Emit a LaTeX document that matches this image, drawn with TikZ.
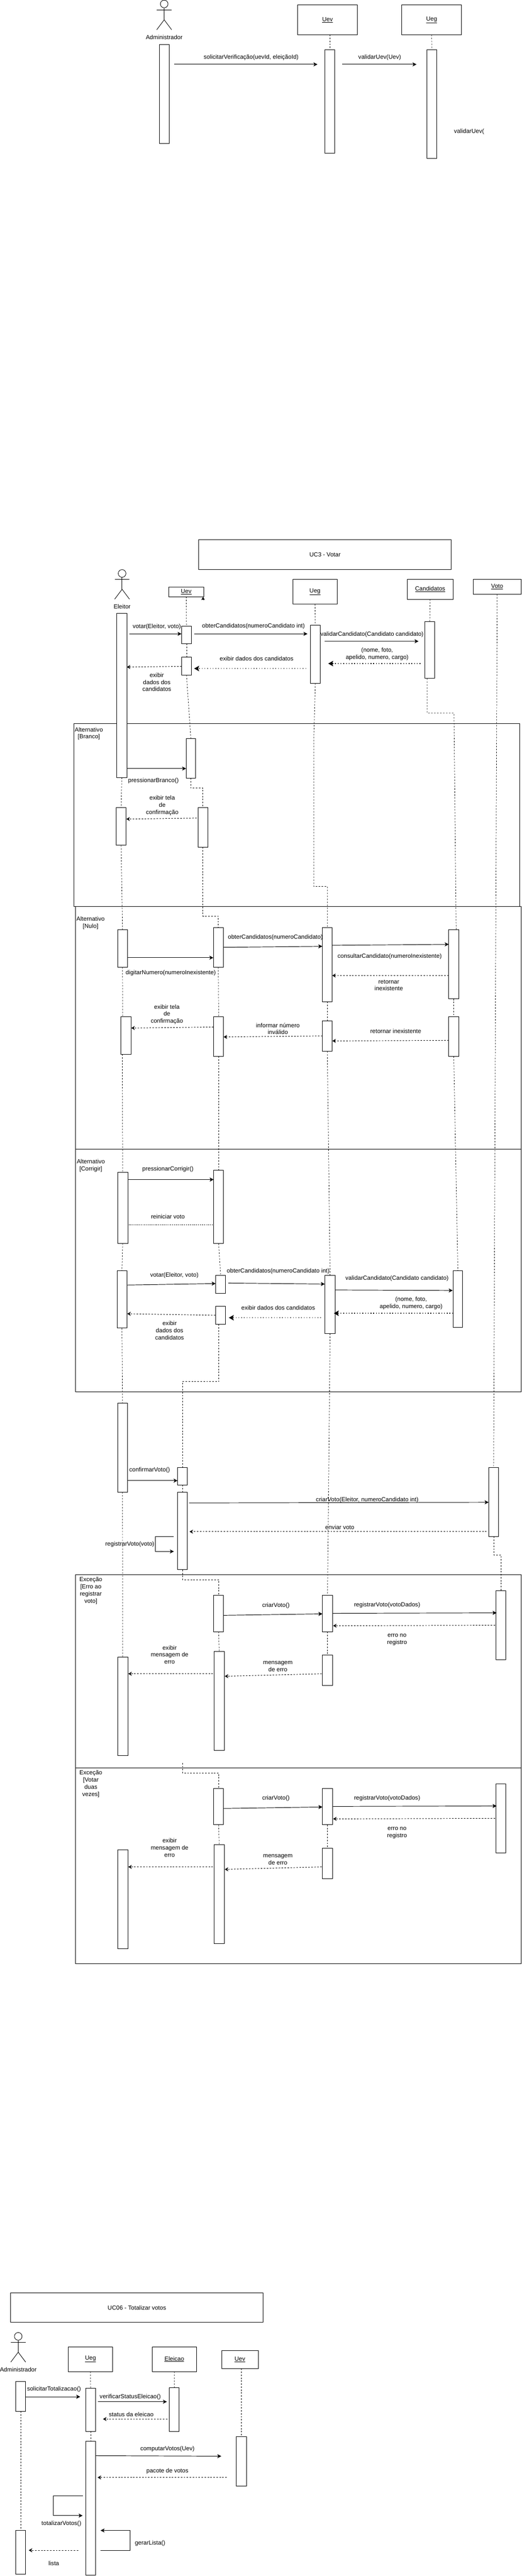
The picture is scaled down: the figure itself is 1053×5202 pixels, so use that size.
\documentclass[tikz,border=0pt]{standalone}
\usepackage{fontspec}
\setmainfont{Liberation Sans}
\usetikzlibrary{arrows.meta,backgrounds}
\newcounter{lblno}
\tikzset{
  actbar/.style={draw=black,fill=white,line width=1pt,inner sep=0pt,outer sep=0pt},
  classbox/.style={draw=black,fill=white,line width=1pt,inner sep=0pt,outer sep=0pt,font=\fontsize{12}{14.4}\selectfont},
  framebox/.style={draw=black,line width=1pt,inner sep=0pt,outer sep=0pt},
  lab/.style={inner sep=0pt,outer sep=0pt,align=center,font=\fontsize{12}{14.4}\selectfont},
  life/.style={line width=.75pt,dash pattern=on 3pt off 3pt},
  call/.style={line width=1pt,-{Stealth[length=8pt,width=8pt,inset=2pt]}},
  ret/.style={line width=1pt,dash pattern=on 3pt off 3pt,-{Stealth[length=7pt,width=8pt,inset=2pt]}},
  retdot/.style={line width=1.5pt,dash pattern=on 1.5pt off 4pt,-{Stealth[length=10pt,width=11pt,inset=2pt]}},
  nohead/.style={line width=1pt,dash pattern=on 2pt off 2pt},
  stick/.style={line width=.9pt}
}
\newcommand{\bx}[7][actbar]{% style,name,x1,y1,x2,y2,text
  \pgfmathsetmacro\myw{#5-#3}\pgfmathsetmacro\myh{#6-#4}%
  \pgfmathsetmacro\mycx{(#3+#5)/2}\pgfmathsetmacro\mycy{(#4+#6)/2}%
  \node[#1,minimum width=\myw pt,minimum height=\myh pt] (#2) at (\mycx,\mycy) {#7};}
\newcommand{\actn}[5]{\bx{#1}{#2}{#3}{#4}{#5}{}}
\newcommand{\msg}[6][call]{% style,name,x1,y1,x2,y2
  \coordinate (#2-s) at (#3,#4);\coordinate (#2-t) at (#5,#6);
  \draw[#1] (#2-s) -- (#2-t);}
\newcommand{\lbl}[3]{\stepcounter{lblno}\node[lab] (lbl\thelblno) at (#1,#2) {#3};}
\newcommand{\stickman}[4]{% name,cx,top,label
  \node[draw=black,fill=white,circle,line width=.9pt,minimum size=15.5pt,inner sep=0pt] (#1-head) at (#2,#3+8) {};
  \coordinate (#1-hip) at (#2,#3+40);
  \coordinate (#1-la) at (#2-15,#3+20);\coordinate (#1-ra) at (#2+15,#3+20);
  \coordinate (#1-ll) at (#2-15,#3+60);\coordinate (#1-rl) at (#2+15,#3+60);
  \draw[stick] (#1-head.south) -- (#1-hip);
  \draw[stick] (#1-la) -- (#1-ra);
  \draw[stick] (#1-ll) -- (#1-hip) -- (#1-rl);
  \node[lab] (#1-label) at (#2,#3+75) {#4};}
\begin{document}
\begin{tikzpicture}[x=1pt,y=-1pt]
\useasboundingbox (0,0) rectangle (1053,5202);
\begin{scope}[on background layer]
\fill[white] (0,0) rectangle (1053,5202);
\end{scope}

%% ---------- top fragment ----------
\stickman{adm}{331.5}{0}{Administrador}
\actn{admA}{321.6}{90}{341.5}{290}
\bx[classbox]{uevT}{601}{10}{721.5}{70}{\underline{Uev}}
\bx[classbox]{uegT}{811}{10}{932}{70}{\underline{Ueg}}
\actn{uevTa}{656}{100}{676}{310}
\actn{uegTa}{862}{100}{882}{320}
\msg{mT1}{351.4}{130}{641}{130}
\msg{mT2}{691}{130}{841}{130}
\lbl{507}{116}{solicitarVerificação(uevId, eleiçãoId)}
\lbl{766.6}{116}{validarUev(Uev)}
\lbl{947}{266}{validarUev(}
\begin{scope}[on background layer]
\draw[life] (uevTa.north |- uevT.south) -- (uevTa.north);
\draw[life] (uegT.south) -- (uegTa.north);
\end{scope}

%% ---------- UC3 ----------
\bx[framebox]{frBranco}{149.5}{1461}{1049.5}{1831}{}
\bx[framebox]{frNulo}{152.4}{1831}{1052.4}{2321}{}
\bx[framebox]{frCorrigir}{152.4}{2321}{1052.4}{2811}{}
\bx[framebox]{frErro}{152.4}{3180}{1052.4}{3570}{}
\bx[framebox]{frVotar}{152.4}{3570}{1052.4}{3965}{}

\bx[classbox]{ucVotar}{401.5}{1090}{911}{1150}{UC3 - Votar}
\stickman{ele}{246.5}{1150}{Eleitor}
\bx[classbox]{u0}{341}{1185}{411}{1205}{\underline{Uev}}
\bx[classbox]{g0}{591.5}{1170}{680.5}{1220}{\underline{Ueg}}
\bx[classbox]{c0}{822}{1170}{915}{1210}{\underline{Candidatos}}
\bx[classbox]{v0}{955.5}{1170}{1052}{1200}{\underline{Voto}}
\msg[-{Stealth[length=6pt,width=7pt,inset=1pt]}]{mTip}{410}{1212}{410}{1205.5}

%% activation bars: eleitor
\actn{e1}{236}{1239}{256}{1570}
\actn{e2}{234.5}{1631}{254.6}{1707}
\actn{e3}{237.4}{1877}{257.4}{1953}
\actn{e4}{244.2}{2053}{264.3}{2129}
\actn{e5}{237.4}{2367}{258}{2511}
\actn{e6}{236.2}{2566}{256.3}{2682}
\actn{e7}{237.4}{2833}{257.4}{3013}
\actn{e8}{237.4}{3346}{258}{3545}
\actn{e9}{237.4}{3736}{258}{3935}
%% uev
\actn{u1}{366.5}{1264.7}{386.6}{1300}
\actn{u2}{366.5}{1327}{386.6}{1363}
\actn{u3}{375.7}{1491}{395}{1571.3}
\actn{u4}{399.8}{1631}{419.3}{1711}
\actn{u5}{430.8}{1873}{450.9}{1953}
\actn{u6}{431.4}{2053}{451.5}{2133}
\actn{u7}{431.4}{2363}{451.5}{2511}
\actn{u8}{435.4}{2575.7}{455.5}{2612}
\actn{u9}{435.4}{2638}{455.5}{2674}
\actn{u10}{358.5}{2963}{378.6}{2999}
\actn{u11}{358.5}{3013}{378.6}{3170}
\actn{u12}{431.4}{3222}{451.5}{3295}
\actn{u13}{432.5}{3335}{452.6}{3535}
\actn{u14}{431.4}{3612}{451.5}{3685}
\actn{u15}{432.5}{3725}{452.6}{3925}
%% ueg
\actn{g1}{626.6}{1263}{646.7}{1380}
\actn{g2}{651}{1873}{670.8}{2023}
\actn{g3}{651}{2061}{670.8}{2123}
\actn{g4}{656.4}{2575.7}{676.5}{2693}
\actn{g5}{651.2}{3222}{671.3}{3295}
\actn{g6}{651.2}{3342}{671.3}{3404}
\actn{g7}{651.2}{3612}{671.3}{3685}
\actn{g8}{651.2}{3732}{671.3}{3794}
%% candidatos
\actn{c1}{858}{1255}{877.4}{1370}
\actn{c2}{906}{1877}{926.2}{2017}
\actn{c3}{906}{2053}{926.2}{2133}
\actn{c4}{914.7}{2566}{934.2}{2681}
%% voto
\actn{v1}{986.5}{2963}{1006.6}{3103}
\actn{v2}{1001.4}{3212}{1021.5}{3352}
\actn{v3}{1001.4}{3602}{1021.5}{3742}

%% free ends of the bent lifelines
\coordinate (e4out) at (247,2129);
\coordinate (e4in) at (247.7,2053);
\coordinate (u9out) at (441.7,2674);
\coordinate (u14start) at (368.2,3560);
\coordinate (c1out) at (862.5,1370);
\coordinate (c1bend) at (916.5,1440);
\coordinate (c2in) at (921,1877);
\coordinate (g1bend) at (633.5,1490);
\coordinate (g1turn) at (633.5,1790);
\coordinate (v1out) at (997,3103);

\begin{scope}[on background layer]
\draw[life] (e1.south) -- (e2.north);
\draw[life] (e2.south) -- (e3.north);
\draw[life] (e3.south) -- (e4in);
\draw[life] (e4out) -- (e5.north);
\draw[life] (e5.south) -- (e6.north);
\draw[life] (e6.south) -- (e7.north);
\draw[life] (e7.south) -- (e8.north);
\draw[life] (u0.south) -- (u1.north);
\draw[life] (u1.south) -- (u2.north);
\draw[life] (u2.south) -- (u3.north);
\draw[life] (u3.south) -- ++(0,20) -| (u4.north);
\draw[life] (u4.south) -- ++(0,139) -| (u5.north);
\draw[life] (u5.south) -- (u6.north);
\draw[life] (u6.south) -- (u7.north);
\draw[life] (u7.south) -- (u8.north);
\draw[life] (u9out) -- ++(0,116) -| (u10.north);
\draw[life] (u10.south) -- (u11.north);
\draw[life] (u11.south) -- ++(0,20) -| (u12.north);
\draw[life] (u12.south) -- (u13.north);
\draw[life] (u14start) -- ++(0,20) -| (u14.north);
\draw[life] (u14.south) -- (u15.north);
\draw[life] (g0.south) -- (g1.north);
\draw[life] (g1.south) -- (g1bend) -- (g1turn) -| (g2.north);
\draw[life] (g2.south) -- (g3.north);
\draw[life] (g3.south) -- (g4.north);
\draw[life] (g4.south) -- (g5.north);
\draw[life] (g5.south) -- (g6.north);
\draw[life] (g7.south) -- (g8.north);
\draw[life] (c0.south) -- (c1.north);
\draw[life] (c1out) |- (c1bend) -- (c2in);
\draw[life] (c2.south) -- (c3.north);
\draw[life] (c3.south) -- (c4.north);
\draw[life] (v0.south) -- (v1.north);
\draw[life] (v1out) -- ++(0,37) -| (v2.north);
\end{scope}

%% frame labels
\lbl{179.4}{1481.5}{Alternativo\\ {[Branco]}}
\lbl{182.8}{1863.5}{Alternativo\\ {[Nulo]}}
\lbl{183.4}{2353.5}{Alternativo\\ {[Corrigir]}}
\lbl{183.4}{3212.5}{Exceção\\ {[Erro ao}\\ registrar\\ voto{]}}
\lbl{183.4}{3602.5}{Exceção\\ {[Votar}\\ duas\\ vezes{]}}

%% main flow
\msg{m1}{261.5}{1280}{366.5}{1280}
\lbl{316.6}{1266}{votar(Eleitor, voto)}
\msg{m2}{391.8}{1280}{620.8}{1280}
\lbl{511.7}{1265}{obterCandidatos(numeroCandidato int)}
\msg{m3}{655}{1295}{845}{1295}
\lbl{751}{1281}{validarCandidato(Candidato candidato)}
\msg[retdot]{m4}{848.7}{1340}{662.7}{1340}
\lbl{761.5}{1320.5}{(nome, foto,\\ apelido, numero, cargo)}
\msg[retdot]{m5}{618}{1350}{392}{1350}
\lbl{518}{1330}{exibir dados dos candidatos}
\msg[ret]{m6}{366.5}{1345.7}{256}{1347}
\lbl{316.6}{1377.5}{exibir\\ dados dos\\ candidatos}

%% branco
\msg{m7}{256}{1552}{375.7}{1552}
\lbl{309.7}{1577}{pressionarBranco()}
\msg[ret]{m8}{397}{1652}{255}{1654}
\lbl{327.5}{1626.5}{exibir tela\\ de\\ confirmação}

%% nulo
\msg{m9}{257.4}{1934}{430.8}{1934}
\lbl{344.7}{1965}{digitarNumero(numeroInexistente)}
\msg{m10}{451}{1913}{650.7}{1911}
\lbl{556}{1893}{obterCandidatos(numeroCandidato)}
\msg{m11}{670.8}{1909}{906}{1907}
\lbl{786.7}{1931}{consultarCandidato(numeroInexistente)}
\msg[ret]{m12}{906}{1970}{670.8}{1970}
\lbl{785}{1989.5}{retornar\\ inexistente}
\msg[ret]{m13}{430.8}{2074}{265}{2076}
\lbl{337}{2048.5}{exibir tela\\ de\\ confirmação}
\msg[ret]{m14}{651}{2092}{451.5}{2094}
\lbl{561}{2077.5}{informar número\\ inválido}
\msg[ret]{m15}{906}{2101}{671}{2102}
\lbl{799}{2082}{retornar inexistente}

%% corrigir
\msg{m16}{258}{2382}{431.4}{2382}
\lbl{339}{2361}{pressionarCorrigir()}
\msg[nohead]{m17}{429.7}{2474}{258.6}{2474}
\lbl{339}{2457}{reiniciar voto}
\msg{m18}{256.3}{2595}{435.4}{2592}
\lbl{352}{2576}{votar(Eleitor, voto)}
\msg{m19}{461}{2591}{655.8}{2593}
\lbl{561.7}{2567}{obterCandidatos(numeroCandidato int)}
\msg{m20}{676.5}{2605}{914}{2606}
\lbl{801.6}{2582}{validarCandidato(Candidato candidato)}
\msg[retdot]{m21}{914.7}{2652}{674}{2652}
\lbl{830}{2631.5}{(nome, foto,\\ apelido, numero, cargo)}
\msg[retdot]{m22}{648}{2661}{462}{2661}
\lbl{561.7}{2641}{exibir dados dos candidatos}
\msg[ret]{m23}{434.8}{2656}{256.9}{2653}
\lbl{342.4}{2686.5}{exibir\\ dados dos\\ candidatos}

%% confirmar
\msg{m24}{257.4}{2990}{358.5}{2990}
\lbl{302}{2969}{confirmarVoto()}
\msg{m25}{382}{3035}{986.5}{3033.7}
\lbl{741.4}{3029}{criarVoto(Eleitor, numeroCandidato int)}
\msg[ret]{m26}{982.5}{3093}{382.6}{3093}
\lbl{686}{3084}{enviar voto}
\coordinate (rvS) at (351,3103);\coordinate (rvA) at (313.7,3103);
\coordinate (rvB) at (313.7,3133);\coordinate (rvE) at (351,3133);
\draw[call] (rvS) -- (rvA) -- (rvB) -- (rvE);
\lbl{262}{3119}{registrarVoto(voto)}

%% erro ao registrar
\msg{m27}{451.5}{3262}{651}{3259}
\lbl{557}{3242}{criarVoto()}
\msg{m28}{671.3}{3258}{1002.6}{3257}
\lbl{781.6}{3241}{registrarVoto(votoDados)}
\msg[ret]{m29}{999.7}{3282}{672.5}{3283}
\lbl{801.6}{3311.5}{erro no\\ registro}
\msg[ret]{m30}{430}{3380}{259}{3380}
\lbl{342.4}{3341.5}{exibir\\ mensagem de\\ erro}
\msg[ret]{m31}{649.5}{3380}{453.8}{3385}
\lbl{561}{3365.5}{mensagem\\ de erro}

%% votar duas vezes
\msg{m32}{451.5}{3652}{651}{3649}
\lbl{557}{3632}{criarVoto()}
\msg{m33}{671.3}{3648}{1002.6}{3647}
\lbl{781.6}{3631}{registrarVoto(votoDados)}
\msg[ret]{m34}{999.7}{3672}{672.5}{3673}
\lbl{801.6}{3701.5}{erro no\\ registro}
\msg[ret]{m35}{430}{3770}{259}{3770}
\lbl{342.4}{3731.5}{exibir\\ mensagem de\\ erro}
\msg[ret]{m36}{649.5}{3770}{453.8}{3775}
\lbl{561}{3755.5}{mensagem\\ de erro}

%% ---------- UC06 ----------
\bx[classbox]{ucTot}{21.4}{4630}{531.4}{4690}{UC06 - Totalizar votos}
\stickman{adm2}{36.8}{4710}{Administrador}
\bx[classbox]{gB}{138}{4739}{227.5}{4789}{\underline{Ueg}}
\bx[classbox]{eB}{307.5}{4739}{396.4}{4789}{\underline{Eleicao}}
\bx[classbox]{vB}{447.5}{4747}{521.4}{4783}{\underline{Uev}}
\actn{a1}{31.4}{4809}{51.8}{4869}
\actn{a2}{31.4}{5110}{51.8}{5198}
\actn{gB1}{172.9}{4822.7}{193.2}{4910}
\actn{gB2}{172.9}{4930}{193.2}{5200}
\actn{eB1}{341.8}{4822}{362}{4910}
\actn{vB1}{477.5}{4920}{497.5}{5020}
\begin{scope}[on background layer]
\draw[life] (a1.south) -- (a2.north);
\draw[life] (gB.south) -- (gB1.north);
\draw[life] (gB1.south) -- (gB2.north);
\draw[life] (eB.south) -- (eB1.north);
\draw[life] (vB1.north |- vB.south) -- (vB1.north);
\end{scope}
\msg{n1}{51.8}{4840}{162}{4840}
\lbl{109}{4825}{solicitarTotalizacao()}
\msg{n2}{197.5}{4850}{337}{4850}
\lbl{263}{4840}{verificarStatusEleicao()}
\msg[ret]{n3}{338}{4885}{208}{4885}
\lbl{265}{4876}{status da eleicao}
\msg{n4}{193}{4959}{446.8}{4960}
\lbl{338}{4946}{computarVotos(Uev)}
\msg[ret]{n5}{457.9}{5003}{197}{5003}
\lbl{338}{4990}{pacote de votos}
\coordinate (tvS) at (167.5,5040);\coordinate (tvA) at (107.5,5040);
\coordinate (tvB) at (107.5,5080);\coordinate (tvE) at (166.8,5080);
\draw[call] (tvS) -- (tvA) -- (tvB) -- (tvE);
\lbl{124}{5096}{totalizarVotos()}
\coordinate (glS) at (202.5,5150);\coordinate (glA) at (262.5,5150);
\coordinate (glB) at (262.5,5110);\coordinate (glE) at (203,5110);
\draw[call] (glS) -- (glA) -- (glB) -- (glE);
\lbl{303}{5136}{gerarLista()}
\msg[ret]{n6}{157.9}{5150}{58}{5150}
\lbl{108.6}{5176}{lista}
\end{tikzpicture}
\end{document}
